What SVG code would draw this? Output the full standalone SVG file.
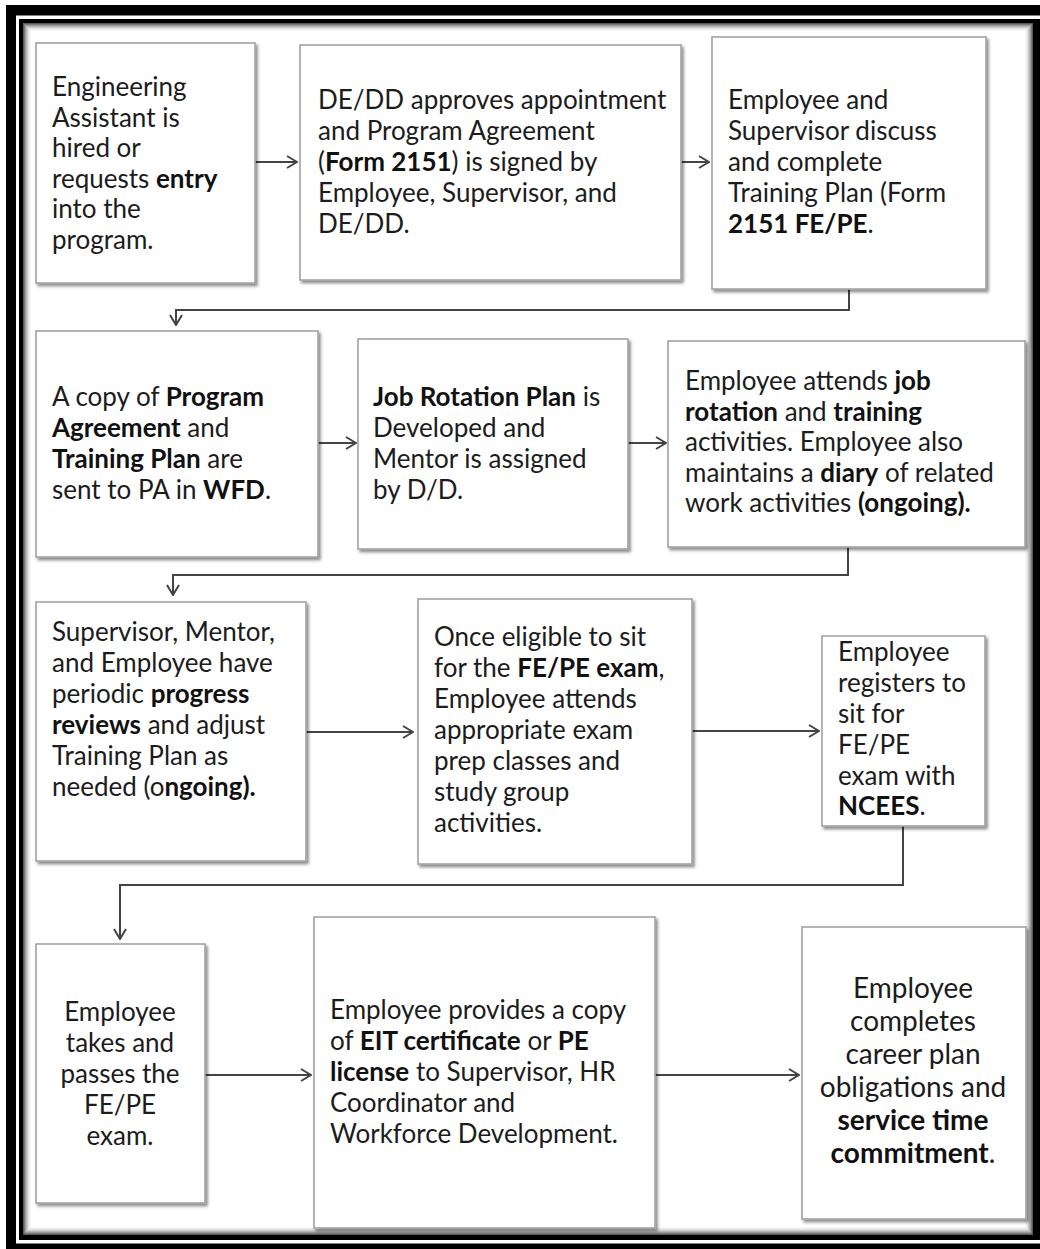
<svg xmlns="http://www.w3.org/2000/svg" width="1040" height="1249" viewBox="0 0 1040 1249">
<defs>
<style>
.box{fill:#fff;stroke:#a3a3a3;stroke-width:1.6;filter:url(#sh)}
.t{font-family:Lato,"Noto Sans",sans-serif;font-size:26px;fill:#1c1c1c}
.big{font-size:28px}
.c{text-anchor:middle}
.b{font-weight:bold;fill:#111}
.con{fill:none;stroke:#444;stroke-width:2;marker-end:url(#ah)}
</style>
<filter id="sh" x="-10%" y="-10%" width="120%" height="120%">
<feDropShadow dx="2" dy="2.5" stdDeviation="1.5" flood-color="#000" flood-opacity="0.45"/>
</filter>
<marker id="ah" viewBox="0 0 12 14" refX="11" refY="7" markerWidth="12" markerHeight="14" orient="auto" markerUnits="userSpaceOnUse">
<path d="M1,1 L11,7 L1,13" fill="none" stroke="#444" stroke-width="2"/>
</marker>
</defs>
<rect x="0" y="0" width="1040" height="1249" fill="#fff"/>
<g id="frame">
<rect x="6" y="5" width="1040" height="1250" fill="#000"/>
<rect x="16" y="15.5" width="1040" height="1228" fill="#fff"/>
<rect x="19" y="19" width="1040" height="1221" fill="#000"/>
<rect x="23" y="23" width="1010" height="1212" fill="#fff"/>
<g fill="none" stroke-width="1">
<rect x="23.5" y="23.5" width="1009" height="1211" stroke="#5a5a5a"/>
<rect x="24.5" y="24.5" width="1007" height="1209" stroke="#7a7a7a"/>
<rect x="25.5" y="25.5" width="1005" height="1207" stroke="#999"/>
<rect x="26.5" y="26.5" width="1003" height="1205" stroke="#b5b5b5"/>
<rect x="27.5" y="27.5" width="1001" height="1203" stroke="#cdcdcd"/>
<rect x="28.5" y="28.5" width="999" height="1201" stroke="#e0e0e0"/>
<rect x="29.5" y="29.5" width="997" height="1199" stroke="#eeeeee"/>
<rect x="30.5" y="30.5" width="995" height="1197" stroke="#f7f7f7"/>
</g>
</g>
<g id="connectors">
<path class="con" d="M255,162 H297"/>
<path class="con" d="M681,162 H709"/>
<path class="con" d="M849,289 V310 H176 V325"/>
<path class="con" d="M318,443 H356"/>
<path class="con" d="M628,443 H666"/>
<path class="con" d="M848,547 V575 H173 V595"/>
<path class="con" d="M306,732 H413"/>
<path class="con" d="M692,731 H819"/>
<path class="con" d="M903,826 V885 H120 V939"/>
<path class="con" d="M205,1075 H311"/>
<path class="con" d="M655,1075 H799"/>
</g>
<g id="n1">
<rect class="box" x="36" y="43" width="219" height="240"/>
<text class="t"><tspan x="52" y="96">Engineering</tspan><tspan x="52" y="126.5">Assistant is</tspan><tspan x="52" y="157">hired or</tspan><tspan x="52" y="187.5">requests <tspan class="b">entry</tspan></tspan><tspan x="52" y="218">into the</tspan><tspan x="52" y="248.5">program.</tspan></text>
</g>
<g id="n2">
<rect class="box" x="300" y="45" width="381" height="235"/>
<text class="t"><tspan x="318" y="109">DE/DD approves appointment</tspan><tspan x="318" y="140">and Program Agreement</tspan><tspan x="318" y="171">(<tspan class="b">Form 2151</tspan>) is signed by</tspan><tspan x="318" y="202">Employee, Supervisor, and</tspan><tspan x="318" y="233">DE/DD.</tspan></text>
</g>
<g id="n3">
<rect class="box" x="712" y="37" width="274" height="252"/>
<text class="t"><tspan x="728" y="109">Employee and</tspan><tspan x="728" y="140">Supervisor discuss</tspan><tspan x="728" y="171">and complete</tspan><tspan x="728" y="202">Training Plan (Form</tspan><tspan x="728" y="233"><tspan class="b">2151 FE/PE</tspan>.</tspan></text>
</g>
<g id="n4">
<rect class="box" x="36" y="331" width="282" height="226"/>
<text class="t"><tspan x="52" y="406">A copy of <tspan class="b">Program</tspan></tspan><tspan x="52" y="437"><tspan class="b">Agreement</tspan> and</tspan><tspan x="52" y="468"><tspan class="b">Training Plan</tspan> are</tspan><tspan x="52" y="499">sent to PA in <tspan class="b">WFD</tspan>.</tspan></text>
</g>
<g id="n5">
<rect class="box" x="358" y="339" width="270" height="210"/>
<text class="t"><tspan x="373" y="406"><tspan class="b">Job Rotation Plan</tspan> is</tspan><tspan x="373" y="437">Developed and</tspan><tspan x="373" y="468">Mentor is assigned</tspan><tspan x="373" y="499">by D/D.</tspan></text>
</g>
<g id="n6">
<rect class="box" x="668" y="341" width="357" height="206"/>
<text class="t"><tspan x="685" y="390">Employee attends <tspan class="b">job</tspan></tspan><tspan x="685" y="420.5"><tspan class="b">rotation</tspan> and <tspan class="b">training</tspan></tspan><tspan x="685" y="451">activities. Employee also</tspan><tspan x="685" y="481.5">maintains a <tspan class="b">diary</tspan> of related</tspan><tspan x="685" y="512">work activities <tspan class="b">(ongoing).</tspan></tspan></text>
</g>
<g id="n7">
<rect class="box" x="36" y="602" width="270" height="259"/>
<text class="t"><tspan x="52" y="641">Supervisor, Mentor,</tspan><tspan x="52" y="672">and Employee have</tspan><tspan x="52" y="703">periodic <tspan class="b">progress</tspan></tspan><tspan x="52" y="734"><tspan class="b">reviews</tspan> and adjust</tspan><tspan x="52" y="765">Training Plan as</tspan><tspan x="52" y="796">needed (o<tspan class="b">ngoing).</tspan></tspan></text>
</g>
<g id="n8">
<rect class="box" x="418" y="599" width="274" height="265"/>
<text class="t"><tspan x="434" y="646">Once eligible to sit</tspan><tspan x="434" y="677">for the <tspan class="b">FE/PE exam</tspan>,</tspan><tspan x="434" y="708">Employee attends</tspan><tspan x="434" y="739">appropriate exam</tspan><tspan x="434" y="770">prep classes and</tspan><tspan x="434" y="801">study group</tspan><tspan x="434" y="832">activities.</tspan></text>
</g>
<g id="n9">
<rect class="box" x="822" y="636" width="163" height="190"/>
<text class="t"><tspan x="838" y="661">Employee</tspan><tspan x="838" y="692">registers to</tspan><tspan x="838" y="723">sit for</tspan><tspan x="838" y="754">FE/PE</tspan><tspan x="838" y="785">exam with</tspan><tspan x="838" y="815"><tspan class="b">NCEES</tspan>.</tspan></text>
</g>
<g id="n10">
<rect class="box" x="36" y="944" width="169" height="259"/>
<text class="t c"><tspan x="120" y="1021">Employee</tspan><tspan x="120" y="1052">takes and</tspan><tspan x="120" y="1083">passes the</tspan><tspan x="120" y="1114">FE/PE</tspan><tspan x="120" y="1145">exam.</tspan></text>
</g>
<g id="n11">
<rect class="box" x="314" y="917" width="341" height="311"/>
<text class="t"><tspan x="330" y="1019">Employee provides a copy</tspan><tspan x="330" y="1050">of <tspan class="b">EIT certificate</tspan> or <tspan class="b">PE</tspan></tspan><tspan x="330" y="1081"><tspan class="b">license</tspan> to Supervisor, HR</tspan><tspan x="330" y="1112">Coordinator and</tspan><tspan x="330" y="1143">Workforce Development.</tspan></text>
</g>
<g id="n12">
<rect class="box" x="802" y="927" width="224" height="292"/>
<text class="t c big"><tspan x="913" y="998">Employee</tspan><tspan x="913" y="1031">completes</tspan><tspan x="913" y="1064">career plan</tspan><tspan x="913" y="1097">obligations and</tspan><tspan x="913" y="1130" class="b">service time</tspan><tspan x="913" y="1163"><tspan class="b">commitment</tspan>.</tspan></text>
</g>
</svg>
